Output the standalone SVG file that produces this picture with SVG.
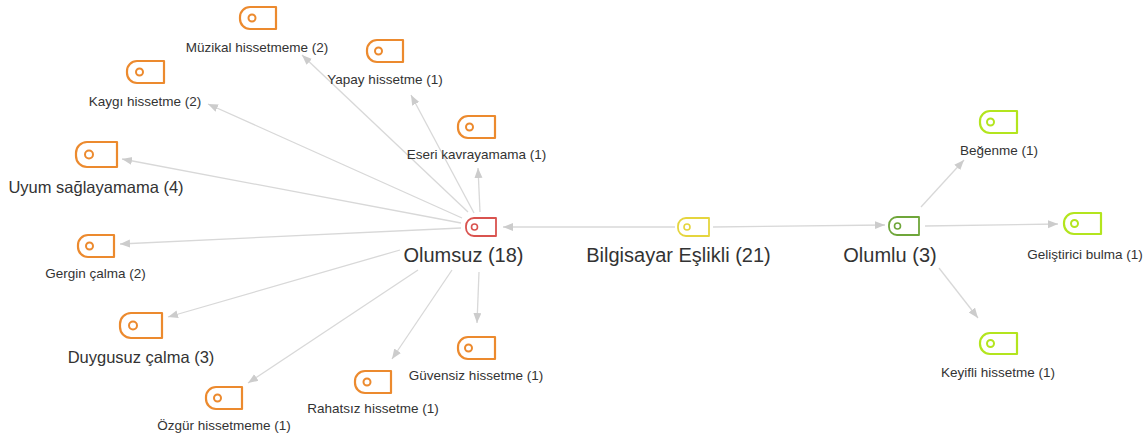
<svg xmlns="http://www.w3.org/2000/svg" width="1148" height="439" viewBox="0 0 1148 439">
  <style>
    .lbl { font-family: "Liberation Sans", Arial, sans-serif; fill: #333333; text-anchor: middle; }
    .s { font-size: 13.5px; }
    .m { font-size: 16.5px; }
    .b { font-size: 20px; }
    .ico { fill: #ffffff; stroke-width: 2.2; stroke-linejoin: round; }
    .dot { fill: none; stroke-width: 2; }
    .big .ico { stroke-width: 1.8; }
    .big .dot { stroke-width: 1.6; }
    .orange { stroke: #EC8A2E; }
    .red { stroke: #D9534F; }
    .yellow { stroke: #E5D53E; }
    .green { stroke: #6FA63A; }
    .lime { stroke: #B3E51E; }
    .edge { fill: none; stroke: #d8d8d8; stroke-width: 1.3; marker-end: url(#arr); }
  </style>
  <defs>
    <marker id="arr" markerUnits="userSpaceOnUse" markerWidth="11" markerHeight="9" refX="10" refY="4" orient="auto">
      <path d="M0,0 L10,4 L0,8 Z" fill="#cccccc"/>
    </marker>
  </defs>
  <rect width="1148" height="439" fill="#ffffff"/>

  <g id="connectors">
    <line class="edge" x1="675" y1="227" x2="503" y2="227"/>
    <line class="edge" x1="713" y1="227" x2="885" y2="225"/>
    <line class="edge" x1="921" y1="207" x2="964" y2="160"/>
    <line class="edge" x1="925" y1="226" x2="1058" y2="224"/>
    <line class="edge" x1="939" y1="268" x2="978" y2="318"/>
    <line class="edge" x1="468" y1="212" x2="302" y2="55"/>
    <line class="edge" x1="474" y1="213" x2="411" y2="95"/>
    <line class="edge" x1="480" y1="212" x2="478" y2="168"/>
    <line class="edge" x1="462" y1="218" x2="208" y2="104"/>
    <line class="edge" x1="461" y1="223" x2="122" y2="159"/>
    <line class="edge" x1="461" y1="228" x2="120" y2="244"/>
    <line class="edge" x1="400" y1="250" x2="168" y2="317"/>
    <line class="edge" x1="418" y1="270" x2="248" y2="383"/>
    <line class="edge" x1="452" y1="270" x2="392" y2="359"/>
    <line class="edge" x1="479" y1="272" x2="477" y2="323"/>
  </g>

  <g id="bilgisayar" class="big">
    <path class="ico yellow" d="M686,218 H709 V236 H686 A8,8 0 0 1 678,228 V226 A8,8 0 0 1 686,218 Z"/>
    <circle class="dot yellow" cx="687" cy="227" r="3"/>
    <text class="lbl b" x="678.5" y="262">Bilgisayar Eşlikli (21)</text>
  </g>

  <g id="olumsuz" class="big">
    <path class="ico red" d="M474,218 H496 V236 H474 A8,8 0 0 1 466,228 V226 A8,8 0 0 1 474,218 Z"/>
    <circle class="dot red" cx="474.5" cy="227" r="3"/>
    <text class="lbl b" x="463.5" y="262">Olumsuz (18)</text>
  </g>

  <g id="olumlu" class="big">
    <path class="ico green" d="M897,217 H919 V235 H897 A8,8 0 0 1 889,227 V225 A8,8 0 0 1 897,217 Z"/>
    <circle class="dot green" cx="897.5" cy="226" r="3"/>
    <text class="lbl b" x="890" y="262">Olumlu (3)</text>
  </g>

  <g id="muzikal">
    <path class="ico orange" d="M250,7 H276 V29 H250 A10,10 0 0 1 240,19 V17 A10,10 0 0 1 250,7 Z"/>
    <circle class="dot orange" cx="252" cy="18" r="3.5"/>
    <text class="lbl s" x="257" y="52">Müzikal hissetmeme (2)</text>
  </g>

  <g id="yapay">
    <path class="ico orange" d="M377,40 H403 V62 H377 A10,10 0 0 1 367,52 V50 A10,10 0 0 1 377,40 Z"/>
    <circle class="dot orange" cx="378.5" cy="51" r="3.5"/>
    <text class="lbl s" x="385" y="84">Yapay hissetme (1)</text>
  </g>

  <g id="eseri">
    <path class="ico orange" d="M468,116 H495 V138 H468 A10,10 0 0 1 458,128 V126 A10,10 0 0 1 468,116 Z"/>
    <circle class="dot orange" cx="469.5" cy="127" r="3.5"/>
    <text class="lbl s" x="476.5" y="159">Eseri kavrayamama (1)</text>
  </g>

  <g id="kaygi">
    <path class="ico orange" d="M137,61 H164 V83 H137 A10,10 0 0 1 127,73 V71 A10,10 0 0 1 137,61 Z"/>
    <circle class="dot orange" cx="139.5" cy="72" r="3.5"/>
    <text class="lbl s" x="145" y="106">Kaygı hissetme (2)</text>
  </g>

  <g id="uyum">
    <path class="ico orange" d="M87,142 H117 V167 H87 A11,11 0 0 1 76,156 V153 A11,11 0 0 1 87,142 Z"/>
    <circle class="dot orange" cx="89" cy="154.5" r="4"/>
    <text class="lbl m" x="96" y="193">Uyum sağlayamama (4)</text>
  </g>

  <g id="gergin">
    <path class="ico orange" d="M88,235 H114 V257 H88 A10,10 0 0 1 78,247 V245 A10,10 0 0 1 88,235 Z"/>
    <circle class="dot orange" cx="89.5" cy="246" r="3.5"/>
    <text class="lbl s" x="95.5" y="278">Gergin çalma (2)</text>
  </g>

  <g id="duygusuz">
    <path class="ico orange" d="M131,313 H162 V338 H131 A11,11 0 0 1 120,327 V324 A11,11 0 0 1 131,313 Z"/>
    <circle class="dot orange" cx="133" cy="325.5" r="4"/>
    <text class="lbl m" x="141" y="363">Duygusuz çalma (3)</text>
  </g>

  <g id="ozgur">
    <path class="ico orange" d="M216,387 H242 V409 H216 A10,10 0 0 1 206,399 V397 A10,10 0 0 1 216,387 Z"/>
    <circle class="dot orange" cx="217.5" cy="398" r="3.5"/>
    <text class="lbl s" x="224" y="430">Özgür hissetmeme (1)</text>
  </g>

  <g id="rahatsiz">
    <path class="ico orange" d="M365,371 H391 V393 H365 A10,10 0 0 1 355,383 V381 A10,10 0 0 1 365,371 Z"/>
    <circle class="dot orange" cx="367" cy="382" r="3.5"/>
    <text class="lbl s" x="373" y="413">Rahatsız hissetme (1)</text>
  </g>

  <g id="guvensiz">
    <path class="ico orange" d="M468,337 H495 V359 H468 A10,10 0 0 1 458,349 V347 A10,10 0 0 1 468,337 Z"/>
    <circle class="dot orange" cx="468.5" cy="348" r="3.5"/>
    <text class="lbl s" x="476" y="380">Güvensiz hissetme (1)</text>
  </g>

  <g id="begenme">
    <path class="ico lime" d="M990,111 H1017 V133 H990 A10,10 0 0 1 980,123 V121 A10,10 0 0 1 990,111 Z"/>
    <circle class="dot lime" cx="990.5" cy="122" r="3.5"/>
    <text class="lbl s" x="999" y="155">Beğenme (1)</text>
  </g>

  <g id="gelistirici">
    <path class="ico lime" d="M1074,213 H1101 V234 H1074 A10,10 0 0 1 1064,224 V223 A10,10 0 0 1 1074,213 Z"/>
    <circle class="dot lime" cx="1074.5" cy="223.5" r="3.5"/>
    <text class="lbl s" x="1085" y="259">Geliştirici bulma (1)</text>
  </g>

  <g id="keyifli">
    <path class="ico lime" d="M990,333 H1017 V354 H990 A10,10 0 0 1 980,344 V343 A10,10 0 0 1 990,333 Z"/>
    <circle class="dot lime" cx="990.5" cy="343.5" r="3.5"/>
    <text class="lbl s" x="998" y="377">Keyifli hissetme (1)</text>
  </g>
</svg>
